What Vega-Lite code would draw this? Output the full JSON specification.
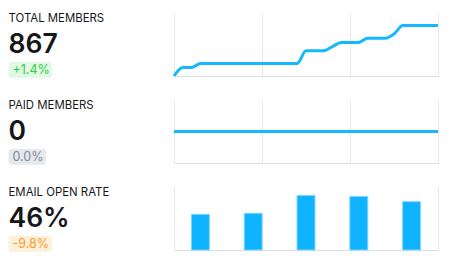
{
  "$schema": "https://vega.github.io/schema/vega-lite/v6.json",
  "background": "white",
  "padding": {"left": 8, "top": 12, "right": 0, "bottom": 0},
  "config": {"view": {"stroke": null}},
  "spacing": 166,
  "bounds": "flush",
  "hconcat": [
    {
      "spacing": 24,
      "bounds": "flush",
      "vconcat": [
        {
          "width": 1, "height": 63,
          "data": {"values": [
            {"kind": "label", "text": "TOTAL MEMBERS"},
            {"kind": "value", "text": "867"},
            {"kind": "change", "text": "+1.4%"}
          ]},
          "encoding": {"y": {"field": "kind", "type": "ordinal", "scale": {"type": "point", "domain": ["label", "value", "change"], "padding": 0}, "axis": null}},
          "layer": [
            {"transform": [{"filter": "datum.kind === 'change'"}],
             "mark": {"type": "point", "shape": "M0.15,-0.7H2.02Q2.17,-0.7 2.17,-0.55V-0.065Q2.17,0.085 2.02,0.085H0.15Q0,0.085 0,-0.065V-0.55Q0,-0.7 0.15,-0.7Z", "size": 1600, "filled": true, "color": "#e1f8e4", "opacity": 1, "strokeWidth": 0}},
            {"transform": [{"filter": "datum.kind === 'label'"}],
             "mark": {"type": "text", "align": "left", "baseline": "alphabetic", "dy": 8.7, "font": "Inter", "fontSize": 11.4, "fontWeight": 400, "color": "#15171a"},
             "encoding": {"text": {"field": "text"}}},
            {"transform": [{"filter": "datum.kind === 'value'"}],
             "mark": {"type": "text", "align": "left", "baseline": "alphabetic", "dy": 8.2, "font": "Inter", "fontSize": 26.5, "fontWeight": 600, "color": "#15171a"},
             "encoding": {"text": {"field": "text"}}},
            {"transform": [{"filter": "datum.kind === 'change'"}],
             "mark": {"type": "text", "align": "left", "baseline": "alphabetic", "dx": 4, "dy": -1.7, "font": "Inter", "fontSize": 12.5, "fontWeight": 400, "color": "#30cf43"},
             "encoding": {"text": {"field": "text"}}}
          ]
        },
        {
          "width": 1, "height": 63,
          "data": {"values": [
            {"kind": "label", "text": "PAID MEMBERS"},
            {"kind": "value", "text": "0"},
            {"kind": "change", "text": "0.0%"}
          ]},
          "encoding": {"y": {"field": "kind", "type": "ordinal", "scale": {"type": "point", "domain": ["label", "value", "change"], "padding": 0}, "axis": null}},
          "layer": [
            {"transform": [{"filter": "datum.kind === 'change'"}],
             "mark": {"type": "point", "shape": "M0.15,-0.7H1.72Q1.87,-0.7 1.87,-0.55V-0.065Q1.87,0.085 1.72,0.085H0.15Q0,0.085 0,-0.065V-0.55Q0,-0.7 0.15,-0.7Z", "size": 1600, "filled": true, "color": "#e5e9ed", "opacity": 1, "strokeWidth": 0}},
            {"transform": [{"filter": "datum.kind === 'label'"}],
             "mark": {"type": "text", "align": "left", "baseline": "alphabetic", "dy": 8.7, "font": "Inter", "fontSize": 11.4, "fontWeight": 400, "color": "#15171a"},
             "encoding": {"text": {"field": "text"}}},
            {"transform": [{"filter": "datum.kind === 'value'"}],
             "mark": {"type": "text", "align": "left", "baseline": "alphabetic", "dy": 8.2, "font": "Inter", "fontSize": 26.5, "fontWeight": 600, "color": "#15171a"},
             "encoding": {"text": {"field": "text"}}},
            {"transform": [{"filter": "datum.kind === 'change'"}],
             "mark": {"type": "text", "align": "left", "baseline": "alphabetic", "dx": 4, "dy": -1.7, "font": "Inter", "fontSize": 12.5, "fontWeight": 400, "color": "#7c8b9a"},
             "encoding": {"text": {"field": "text"}}}
          ]
        },
        {
          "width": 1, "height": 63,
          "data": {"values": [
            {"kind": "label", "text": "EMAIL OPEN RATE"},
            {"kind": "value", "text": "46%"},
            {"kind": "change", "text": "-9.8%"}
          ]},
          "encoding": {"y": {"field": "kind", "type": "ordinal", "scale": {"type": "point", "domain": ["label", "value", "change"], "padding": 0}, "axis": null}},
          "layer": [
            {"transform": [{"filter": "datum.kind === 'change'"}],
             "mark": {"type": "point", "shape": "M0.15,-0.7H2.02Q2.17,-0.7 2.17,-0.55V-0.065Q2.17,0.085 2.02,0.085H0.15Q0,0.085 0,-0.065V-0.55Q0,-0.7 0.15,-0.7Z", "size": 1600, "filled": true, "color": "#fff0d9", "opacity": 1, "strokeWidth": 0}},
            {"transform": [{"filter": "datum.kind === 'label'"}],
             "mark": {"type": "text", "align": "left", "baseline": "alphabetic", "dy": 8.7, "font": "Inter", "fontSize": 11.4, "fontWeight": 400, "color": "#15171a"},
             "encoding": {"text": {"field": "text"}}},
            {"transform": [{"filter": "datum.kind === 'value'"}],
             "mark": {"type": "text", "align": "left", "baseline": "alphabetic", "dy": 8.2, "font": "Inter", "fontSize": 26.5, "fontWeight": 600, "color": "#15171a"},
             "encoding": {"text": {"field": "text"}}},
            {"transform": [{"filter": "datum.kind === 'change'"}],
             "mark": {"type": "text", "align": "left", "baseline": "alphabetic", "dx": 4, "dy": -1.7, "font": "Inter", "fontSize": 12.5, "fontWeight": 400, "color": "#fb9a2f"},
             "encoding": {"text": {"field": "text"}}}
          ]
        }
      ]
    },
    {
      "spacing": 24,
      "bounds": "flush",
      "vconcat": [
        {
          "width": 264, "height": 63,
          "data": {"values": [
            {"day": 0, "members": 855}, {"day": 1, "members": 857}, {"day": 2, "members": 857}, {"day": 3, "members": 858},
            {"day": 4, "members": 858}, {"day": 5, "members": 858}, {"day": 6, "members": 858}, {"day": 7, "members": 858},
            {"day": 8, "members": 858}, {"day": 9, "members": 858}, {"day": 10, "members": 858}, {"day": 11, "members": 858},
            {"day": 12, "members": 858}, {"day": 13, "members": 858}, {"day": 14, "members": 858}, {"day": 15, "members": 861},
            {"day": 16, "members": 861}, {"day": 17, "members": 861}, {"day": 18, "members": 862}, {"day": 19, "members": 863},
            {"day": 20, "members": 863}, {"day": 21, "members": 863}, {"day": 22, "members": 864}, {"day": 23, "members": 864},
            {"day": 24, "members": 864}, {"day": 25, "members": 865}, {"day": 26, "members": 867}, {"day": 27, "members": 867},
            {"day": 28, "members": 867}, {"day": 29, "members": 867}, {"day": 30, "members": 867}
          ]},
          "mark": {"type": "line", "interpolate": "monotone", "color": "#14b8ff", "strokeWidth": 3},
          "encoding": {
            "x": {"field": "day", "type": "quantitative", "scale": {"domain": [0, 30], "nice": false},
                  "axis": {"values": [0, 10, 20, 30], "grid": true, "gridColor": "#e4e8eb", "labels": false, "ticks": false, "domain": true, "domainColor": "#dadfe3", "title": null}},
            "y": {"field": "members", "type": "quantitative", "scale": {"domain": [855, 870], "zero": false, "nice": false}, "axis": null}
          }
        },
        {
          "width": 264, "height": 63,
          "data": {"values": [
            {"day": 0, "paid": 0}, {"day": 1, "paid": 0}, {"day": 2, "paid": 0}, {"day": 3, "paid": 0},
            {"day": 4, "paid": 0}, {"day": 5, "paid": 0}, {"day": 6, "paid": 0}, {"day": 7, "paid": 0},
            {"day": 8, "paid": 0}, {"day": 9, "paid": 0}, {"day": 10, "paid": 0}, {"day": 11, "paid": 0},
            {"day": 12, "paid": 0}, {"day": 13, "paid": 0}, {"day": 14, "paid": 0}, {"day": 15, "paid": 0},
            {"day": 16, "paid": 0}, {"day": 17, "paid": 0}, {"day": 18, "paid": 0}, {"day": 19, "paid": 0},
            {"day": 20, "paid": 0}, {"day": 21, "paid": 0}, {"day": 22, "paid": 0}, {"day": 23, "paid": 0},
            {"day": 24, "paid": 0}, {"day": 25, "paid": 0}, {"day": 26, "paid": 0}, {"day": 27, "paid": 0},
            {"day": 28, "paid": 0}, {"day": 29, "paid": 0}, {"day": 30, "paid": 0}
          ]},
          "mark": {"type": "line", "interpolate": "monotone", "color": "#14b8ff", "strokeWidth": 3},
          "encoding": {
            "x": {"field": "day", "type": "quantitative", "scale": {"domain": [0, 30], "nice": false},
                  "axis": {"values": [0, 10, 20, 30], "grid": true, "gridColor": "#e4e8eb", "labels": false, "ticks": false, "domain": true, "domainColor": "#dadfe3", "title": null}},
            "y": {"field": "paid", "type": "quantitative", "scale": {"domain": [-1, 1], "zero": false, "nice": false}, "axis": null}
          }
        },
        {
          "width": 264, "height": 63,
          "data": {"values": [
            {"period": "P1", "rate": 34},
            {"period": "P2", "rate": 35},
            {"period": "P3", "rate": 52},
            {"period": "P4", "rate": 51},
            {"period": "P5", "rate": 46}
          ]},
          "encoding": {
            "x": {"field": "period", "type": "ordinal", "scale": {"paddingInner": 0.66, "paddingOuter": 0.33},
                  "axis": {"labels": false, "ticks": false, "domain": true, "domainColor": "#dadfe3", "grid": false, "title": null}},
            "y": {"field": "rate", "type": "quantitative", "scale": {"domain": [0, 60], "nice": false}}
          },
          "layer": [
            {"mark": {"type": "bar", "color": "#0fb3ff", "stroke": "#7fd6ff", "strokeWidth": 1},
             "encoding": {"y": {"field": "rate", "type": "quantitative", "axis": {"orient": "left", "labels": false, "ticks": false, "grid": false, "domain": true, "domainColor": "#e4e8eb", "title": null}}}},
            {"mark": {"type": "bar", "opacity": 0},
             "encoding": {"y": {"field": "rate", "type": "quantitative", "axis": {"orient": "right", "labels": false, "ticks": false, "grid": false, "domain": true, "domainColor": "#e4e8eb", "title": null}}}}
          ],
          "resolve": {"axis": {"y": "independent"}}
        }
      ]
    }
  ]
}
